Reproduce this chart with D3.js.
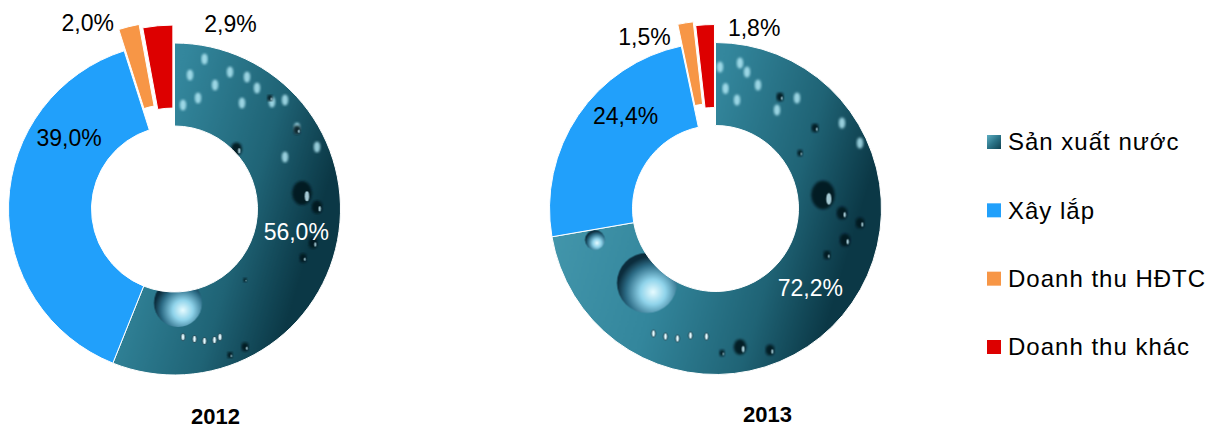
<!DOCTYPE html>
<html>
<head>
<meta charset="utf-8">
<script src="https://cdn.jsdelivr.net/npm/d3@7"></script>
<style>
  body { margin: 0; background: #fff; }
  svg { display: block; font-family: Arial, "Liberation Sans", sans-serif; }
</style>
</head>
<body>
<svg id="chart" width="1216" height="428"></svg>
<script>
// data
const categories = ['Sản xuất nước', 'Xây lắp', 'Doanh thu HĐTC', 'Doanh thu khác'];
const years = ['2012', '2013'];
const values2012 = [56.0, 39.0, 2.0, 2.9];
const values2013 = [72.2, 24.4, 1.5, 1.8];

// style / layout
const colors = [null, '#21a0fb', '#f79646', '#dd0000'];   // null -> water texture
const explode = [0, 0, 22, 18];
const R = 166, r0 = 83;
const charts = [
  {year: years[0], values: values2012, cx: 174.5, cy: 209, yx: 215.5, yy: 423.5,
   lab: [{da: 0, r: 124}, {da: 31.8, r: 127}, {da: -11, r: 205}, {da: 22.1, r: 193}]},
  {year: years[1], values: values2013, cx: 715.5, cy: 208.5, yx: 767.5, yy: 421.5,
   lab: [{da: 0, r: 124}, {da: 11.7, r: 129}, {da: -13.3, r: 185.5}, {da: 15.3, r: 185}]}
];
// decorative droplets for the water texture (dx, dy from centre, size)
const drops = [
  {light: [[15.5,-134],[40.5,-124],[55.5,-137],[72.5,-132],[67.5,-106],[8.5,-104],[23.5,-111],[82.5,-121],[110.5,-109],[122.5,-81],[110.5,-52],[142.5,-62],[97.5,-107],[-5,-140],[30,-150]],
   dark: [[95.5,-111,3],[122.5,-79,4],[127.5,-16,11],[142.5,-2,6],[138.5,34,5],[128.5,49,4],[70.5,71,2],[70.5,138,4],[55.5,146,3],[62,-60,6]],
   big: [[3.5,94,24]],
   row: [[8.5,128],[20,130],[30,132],[40,131],[45.5,128]]},
  {light: [[4.5,-141.5],[24.5,-145.5],[31.5,-136.5],[42.5,-123.5],[21.5,-108.5],[61.5,-98.5],[81.5,-110.5],[126.5,-85.5],[144.5,-65.5],[10,-120]],
   dark: [[64.5,-111.5,4],[99.5,-80.5,4],[84.5,-55.5,3],[107.5,-13.5,13],[126.5,4.5,6],[144.5,14.5,5],[129.5,31.5,6],[111.5,46.5,4],[24.5,138.5,7],[54.5,141.5,5],[6.5,144.5,3]],
   big: [[-68.5,74.5,30],[-120.5,31.5,10]],
   row: [[-62,125],[-50,128],[-38,130],[-25,127],[-9,128]]}
];

const fmt = v => d3.format('.1f')(v).replace('.', ',') + '%';
const svg = d3.select('#chart');
const defs = svg.append('defs');

const baseGrad = defs.append('linearGradient').attr('id', 'waterBase')
  .attr('x1', 0).attr('y1', 0).attr('x2', 1).attr('y2', 0.3);
[[0, '#4a9db2'], [0.5, '#33869c'], [0.8, '#1f6375'], [1, '#0b3846']]
  .forEach(s => baseGrad.append('stop').attr('offset', s[0]).attr('stop-color', s[1]));

const bigGrad = defs.append('radialGradient').attr('id', 'bigDrop')
  .attr('cx', 0.6).attr('cy', 0.65).attr('r', 0.6);
[[0, '#e6fbff'], [0.35, '#8fd3ea'], [0.75, '#2c6c86'], [1, '#0b2c3c']]
  .forEach(s => bigGrad.append('stop').attr('offset', s[0]).attr('stop-color', s[1]));

defs.append('filter').attr('id', 'soft').append('feGaussianBlur').attr('stdDeviation', 1);

const legGrad = defs.append('linearGradient').attr('id', 'legWater')
  .attr('x1', 0).attr('y1', 0).attr('x2', 1).attr('y2', 1);
[[0, '#5eaec2'], [0.5, '#2b7488'], [1, '#0f4252']]
  .forEach(s => legGrad.append('stop').attr('offset', s[0]).attr('stop-color', s[1]));

const pie = d3.pie().sort(null).value(d => d);
const arc = d3.arc().innerRadius(r0).outerRadius(R);

charts.forEach((c, ci) => {
  // water texture pattern for this donut (user space of the translated group)
  const pat = defs.append('pattern').attr('id', 'water' + ci)
    .attr('patternUnits', 'userSpaceOnUse')
    .attr('x', -R).attr('y', -R).attr('width', 2 * R).attr('height', 2 * R);
  const pg = pat.append('g').attr('transform', `translate(${R},${R})`);
  pg.append('rect').attr('x', -R).attr('y', -R).attr('width', 2 * R).attr('height', 2 * R)
    .attr('fill', 'url(#waterBase)');
  const dd = drops[ci];
  pg.selectAll('.lt').data(dd.light).enter().append('ellipse')
    .attr('cx', d => d[0]).attr('cy', d => d[1]).attr('rx', 3.2).attr('ry', 5.5)
    .attr('fill', '#b8eefa').attr('opacity', 0.8).attr('filter', 'url(#soft)');
  pg.selectAll('.dk').data(dd.dark).enter().append('ellipse')
    .attr('cx', d => d[0]).attr('cy', d => d[1]).attr('rx', d => d[2] * 0.9).attr('ry', d => d[2] * 1.1)
    .attr('fill', '#03161f').attr('opacity', 0.9).attr('filter', 'url(#soft)');
  pg.selectAll('.dkh').data(dd.dark).enter().append('ellipse')
    .attr('cx', d => d[0] + d[2] * 0.45).attr('cy', d => d[1] + d[2] * 0.3)
    .attr('rx', d => d[2] * 0.2).attr('ry', d => d[2] * 0.45)
    .attr('fill', '#cdf4ff').attr('opacity', 0.8);
  pg.selectAll('.bg').data(dd.big).enter().append('circle')
    .attr('cx', d => d[0]).attr('cy', d => d[1]).attr('r', d => d[2])
    .attr('fill', 'url(#bigDrop)');
  pg.selectAll('.rw').data(dd.row).enter().append('ellipse')
    .attr('cx', d => d[0]).attr('cy', d => d[1]).attr('rx', 2).attr('ry', 3.6)
    .attr('fill', '#e3faff').attr('stroke', '#0a2a36').attr('stroke-width', 0.8);

  const g = svg.append('g').attr('transform', `translate(${c.cx},${c.cy})`);
  const arcs = pie(c.values);

  g.selectAll('path').data(arcs).enter().append('path')
    .attr('d', arc)
    .attr('transform', (d, i) => {
      const a = (d.startAngle + d.endAngle) / 2;
      return `translate(${Math.sin(a) * explode[i]},${-Math.cos(a) * explode[i]})`;
    })
    .attr('fill', (d, i) => colors[i] || `url(#water${ci})`)
    .attr('stroke', '#fff').attr('stroke-width', 1);

  g.selectAll('text.lbl').data(arcs).enter().append('text')
    .attr('class', 'lbl')
    .attr('x', (d, i) => Math.sin((d.startAngle + d.endAngle) / 2 + c.lab[i].da * Math.PI / 180) * c.lab[i].r)
    .attr('y', (d, i) => -Math.cos((d.startAngle + d.endAngle) / 2 + c.lab[i].da * Math.PI / 180) * c.lab[i].r)
    .attr('dy', '0.35em')
    .attr('text-anchor', 'middle')
    .attr('font-size', 23)
    .attr('fill', (d, i) => i === 0 ? '#fff' : '#000')
    .text(d => fmt(d.data));

  svg.append('text')
    .attr('x', c.yx).attr('y', c.yy)
    .attr('text-anchor', 'middle')
    .attr('font-size', 22).attr('font-weight', 'bold')
    .text(c.year);
});

// legend
const legY = d3.scalePoint().domain(categories).range([142, 347]);
const leg = svg.append('g').selectAll('g').data(categories).enter().append('g')
  .attr('transform', d => `translate(987,${legY(d)})`);
leg.append('rect')
  .attr('x', 0).attr('y', -7).attr('width', 14).attr('height', 14)
  .attr('fill', (d, i) => colors[i] || 'url(#legWater)');
leg.append('text')
  .attr('x', 21).attr('dy', '0.35em')
  .attr('font-size', 24).attr('letter-spacing', 1)
  .text(d => d);
</script>
</body>
</html>
